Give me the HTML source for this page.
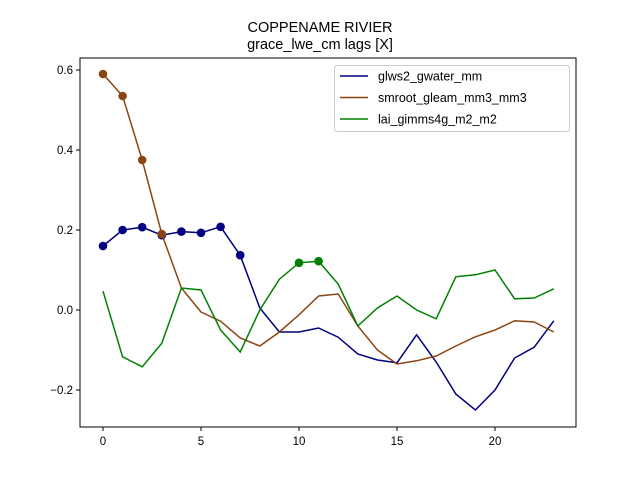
<!DOCTYPE html>
<html><head><meta charset="utf-8"><style>body{margin:0;background:#fff}svg{font-family:"Liberation Sans",sans-serif}</style></head>
<body>
<svg id="c" width="640" height="480"></svg>
<script>
const lags=[0,1,2,3,4,5,6,7,8,9,10,11,12,13,14,15,16,17,18,19,20,21,22,23];
const glws2=[0.16,0.20,0.207,0.187,0.196,0.193,0.208,0.137,0.005,-0.055,-0.055,-0.045,-0.068,-0.11,-0.125,-0.132,-0.062,-0.13,-0.21,-0.25,-0.2,-0.12,-0.093,-0.027];
const smroot=[0.59,0.535,0.375,0.19,0.055,-0.005,-0.028,-0.07,-0.09,-0.055,-0.012,0.035,0.04,-0.04,-0.1,-0.135,-0.127,-0.115,-0.09,-0.067,-0.05,-0.027,-0.03,-0.055];
const lai=[0.047,-0.117,-0.142,-0.083,0.055,0.05,-0.05,-0.105,0.0,0.077,0.118,0.122,0.065,-0.04,0.005,0.035,0.0,-0.022,0.083,0.088,0.1,0.028,0.03,0.053];
const glwsSig=[0,1,2,3,4,5,6,7];
const smrootSig=[0,1,2,3];
const laiSig=[10,11];
const xTicks=[0,5,10,15,20];
const yTicks=[-0.2,0,0.2,0.4,0.6];
const yLabels=["\u22120.2","0.0","0.2","0.4","0.6"];
const names=["glws2_gwater_mm","smroot_gleam_mm3_mm3","lai_gimms4g_m2_m2"];
const colors=["#000080","#8b4513","#008000"];

const L=80,R=576,T=58,B=427;
const x=v=>103+v*19.6;
const y=v=>310-v*400;
const svg=document.getElementById('c');
const NS='http://www.w3.org/2000/svg';
function mk(tag,attrs,parent){const e=document.createElementNS(NS,tag);for(const k in attrs)e.setAttribute(k,attrs[k]);(parent||svg).appendChild(e);return e;}

let t=mk('text',{x:320,y:32,'text-anchor':'middle','font-size':14.5});t.textContent='COPPENAME RIVIER';

t=mk('text',{x:320,y:49,'text-anchor':'middle','font-size':14.5});t.textContent='grace_lwe_cm lags [X]';


xTicks.forEach(v=>{
  mk('line',{x1:x(v),x2:x(v),y1:B,y2:B+4,stroke:'#000'});
  const tx=mk('text',{x:x(v),y:B+18,'text-anchor':'middle','font-size':11.5});tx.textContent=v;
  
});
yTicks.forEach((v,i)=>{
  mk('line',{x1:L-4,x2:L,y1:y(v),y2:y(v),stroke:'#000'});
  const tx=mk('text',{x:L-7,y:y(v)+4,'text-anchor':'end','font-size':11.5});tx.textContent=yLabels[i];
  
});

const series=[glws2,smroot,lai],sigs=[glwsSig,smrootSig,laiSig];
series.forEach((s,k)=>{
  const p=mk('polyline',{points:s.map((v,i)=>x(lags[i])+','+y(v)).join(' '),fill:'none',stroke:colors[k],'stroke-width':1.5});
  
  sigs[k].forEach(i=>{
    const c=mk('circle',{cx:x(lags[i]),cy:y(s[i]),r:4.3,fill:colors[k]});
    
  });
});
const ax=mk('rect',{x:L,y:T,width:R-L,height:B-T,fill:'none',stroke:'#000','stroke-width':1});


const lg=mk('g',{});

mk('rect',{x:334.5,y:65.5,width:235,height:66,rx:3,fill:'#fff',stroke:'#ccc'},lg);
names.forEach((n,k)=>{
  const yy=76+k*21.5;
  mk('line',{x1:340,x2:368,y1:yy,y2:yy,stroke:colors[k],'stroke-width':1.5},lg);
  const tx=mk('text',{x:378,y:yy+4.5,'font-size':12.5},lg);tx.textContent=n;
  
});
</script>
</body></html>
